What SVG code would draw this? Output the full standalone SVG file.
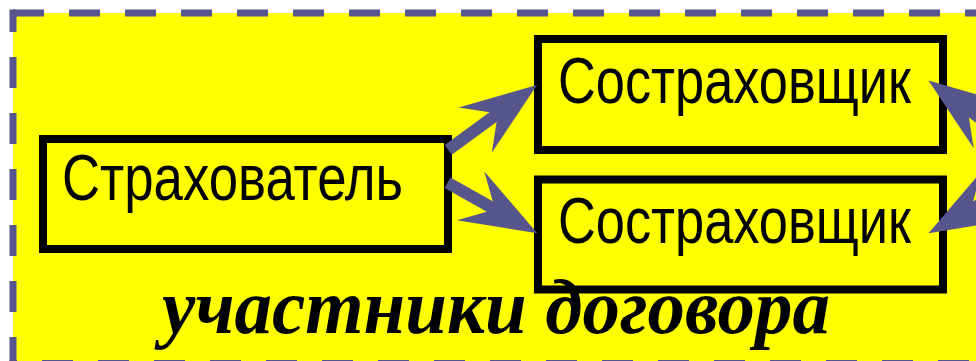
<svg xmlns="http://www.w3.org/2000/svg" width="976" height="361" viewBox="0 0 976 361">
<defs>
<style>
.frame{stroke:#56568C;stroke-width:7;stroke-dasharray:31 25;fill:none}
.box{fill:#FFFF00;stroke:#000;stroke-width:8}
.lbl{font-family:"Liberation Sans",Arial,sans-serif;font-size:64px;fill:#000}
.title{font-family:"Liberation Serif","Times New Roman",serif;font-size:78px;font-weight:bold;font-style:italic;fill:#000}
.arr{fill:#56568C}
</style>
<polygon id="ahLong" points="0,0 -76.5,-28 -54.5,-6 -110,-6 -110,6 -54.5,6 -76.5,28"/>
<polygon id="ahShort" points="0,0 -76.5,-28 -54.5,-6 -103,-6 -103,6 -54.5,6 -76.5,28"/>
</defs>
<rect x="13" y="13" width="1000" height="360" fill="#FFFF00"/>
<g id="frame">
<line class="frame" x1="9.5" y1="13" x2="1000" y2="13" stroke-dashoffset="52.5"/>
<line class="frame" x1="13" y1="9.5" x2="13" y2="380" stroke-dashoffset="8.5"/>
<line class="frame" x1="9.5" y1="363.5" x2="1000" y2="363.5" stroke-dashoffset="23.5"/>
</g>
<g id="insured">
<rect class="box" x="43" y="139" width="405" height="110"/>
<text class="lbl" x="62" y="200" textLength="341" lengthAdjust="spacingAndGlyphs">Страхователь</text>
</g>
<g id="coinsurer1">
<rect class="box" x="538" y="39" width="405" height="111"/>
<text class="lbl" x="558" y="103" textLength="353" lengthAdjust="spacingAndGlyphs">Состраховщик</text>
</g>
<g id="coinsurer2">
<rect class="box" x="538" y="179.5" width="405" height="110"/>
<text class="lbl" x="558" y="243" textLength="353" lengthAdjust="spacingAndGlyphs">Состраховщик</text>
</g>
<g id="connectors" class="arr">
<use href="#ahLong" transform="translate(537,85) rotate(-36.2)"/>
<use href="#ahShort" transform="translate(537.3,233.3) rotate(29.35)"/>
<use href="#ahLong" transform="translate(928.5,80.5) scale(-1,1) rotate(-36.2)"/>
<use href="#ahShort" transform="translate(928.5,233.3) scale(-1,1) rotate(29.35)"/>
</g>
<g id="caption">
<text class="title" x="162" y="333" textLength="668" lengthAdjust="spacingAndGlyphs">участники договора</text>
</g>
</svg>
